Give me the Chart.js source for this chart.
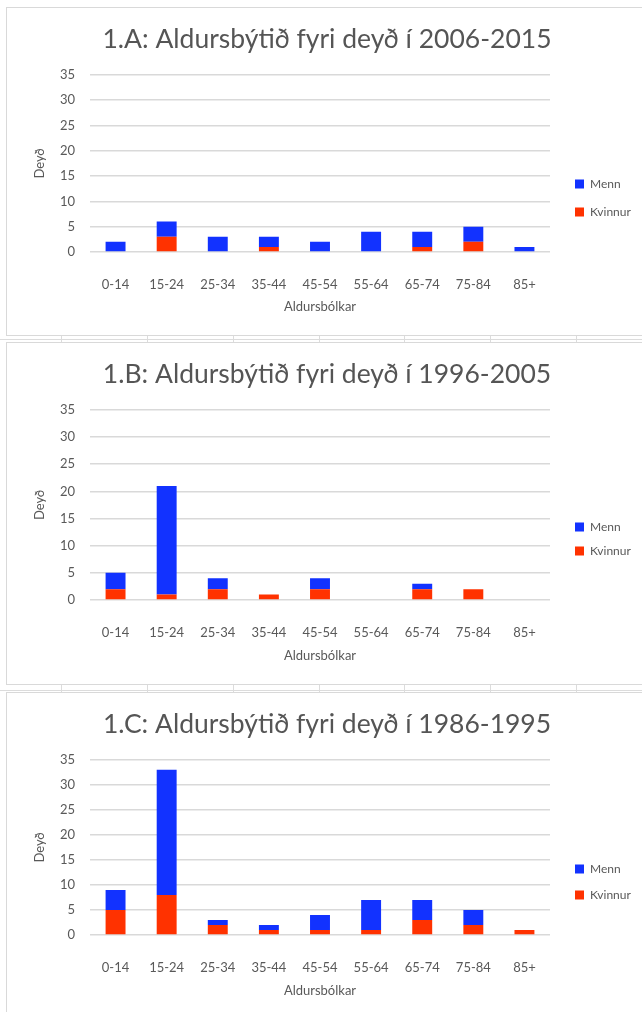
<!DOCTYPE html>
<html lang="fo">
<head>
<meta charset="UTF-8" />
<title>Aldursbýtið fyri deyð</title>
<script src="https://cdn.jsdelivr.net/npm/chart.js"></script>
<style>
  html, body { margin: 0; padding: 0; background: #fff; overflow: hidden; }
  body { width: 642px; height: 1012px; position: relative; }
  .panel { position: absolute; left: 7px; width: 640px; background: #fff; outline: 1px solid #d9d9d9; }
  .panel canvas { position: absolute; left: 0; top: 0; }
  .rad { position: absolute; left: 0; width: 642px; height: 0; border-top: 1px solid #dcdcdc; }
  .kol { position: absolute; width: 0; border-left: 1px solid #dcdcdc; }
</style>
</head>
<body>

<!-- raðlinjur og teigar millum myndirnar -->
<div class="rad" style="top:339px"></div>
<div class="rad" style="top:690px"></div>
<div id="kolonnur"></div>

<div class="panel" style="top:8px; height:327px"><canvas id="myndA" width="635" height="327"></canvas></div>
<div class="panel" style="top:343px; height:341px"><canvas id="myndB" width="635" height="341"></canvas></div>
<div class="panel" style="top:693px; height:326px"><canvas id="myndC" width="635" height="326"></canvas></div>

<script>
const aldursbolkar = ['0-14', '15-24', '25-34', '35-44', '45-54', '55-64', '65-74', '75-84', '85+'];
const yMerki = [0, 5, 10, 15, 20, 25, 30, 35];

// 1.A: 2006-2015
const kvinnurA = [0, 3, 0, 1, 0, 0, 1, 2, 0];
const mennA    = [2, 3, 3, 2, 2, 4, 3, 3, 1];

// 1.B: 1996-2005
const kvinnurB = [2, 1, 2, 1, 2, 0, 2, 2, 0];
const mennB    = [3, 20, 2, 0, 2, 0, 1, 0, 0];

// 1.C: 1986-1995
const kvinnurC = [5, 8, 2, 1, 1, 1, 3, 2, 1];
const mennC    = [4, 25, 1, 1, 3, 6, 4, 3, 0];

const litur = {
  menn: '#1232ff',
  kvinnur: '#ff3200',
  tekstur: '#595959',
  grid: '#d9d9d9'
};

const skrift = 'Lato, "Open Sans", sans-serif';

// kolonnustrikur í rokniarkinum millum myndirnar
const kolX = [61, 147, 233, 319, 404, 490, 576];
const kolBox = document.getElementById('kolonnur');
[[335, 343], [684, 693]].forEach(([a, b]) => {
  kolX.forEach(x => {
    const d = document.createElement('div');
    d.className = 'kol';
    d.style.left = x + 'px';
    d.style.top = a + 'px';
    d.style.height = (b - a) + 'px';
    kolBox.appendChild(d);
  });
});

Chart.defaults.font.family = skrift;
Chart.defaults.color = litur.tekstur;

// sama breidd sum Chart.js roknar forklaringini (lodrøtt)
function forklaringBreidd(bil) {
  const c = document.createElement('canvas').getContext('2d');
  c.font = 'normal 12px ' + skrift;
  const tw = Math.max(c.measureText('Menn').width, c.measureText('Kvinnur').width);
  return bil + 9 + 6 + tw + 10;
}

// flytur forklaringina til sama stað sum í Excel
const flytaForklaring = {
  id: 'flytaForklaring',
  afterLayout(chart, args, opts) {
    const l = chart.legend;
    const pad = l.options.labels.padding;
    const w = l.width, h = l.height;
    l.left = opts.x - pad;
    l.right = l.left + w;
    l.top = opts.y - pad;
    l.bottom = l.top + h;
  }
};

function teikna(id, heiti, kvinnur, menn, s) {
  // ritøkið endar við x=543, heitið miðjað um x=320 (í canvas)
  const hogra = 92 - forklaringBreidd(s.bil);
  const vinstra = 5 + hogra;

  new Chart(document.getElementById(id), {
    type: 'bar',
    data: {
      labels: aldursbolkar,
      datasets: [
        { label: 'Kvinnur', data: kvinnur, backgroundColor: litur.kvinnur },
        { label: 'Menn', data: menn, backgroundColor: litur.menn }
      ]
    },
    options: {
      responsive: false,
      animation: false,
      layout: { padding: { left: vinstra, right: hogra, top: 0, bottom: 0 } },
      datasets: { bar: { categoryPercentage: 1, barPercentage: 0.39 } },
      plugins: {
        title: {
          display: true,
          text: heiti,
          color: '#555555',
          font: { size: 26.5, weight: 'normal' },
          padding: { top: 16, bottom: 19 }
        },
        legend: {
          position: 'right',
          align: 'start',
          reverse: true,
          labels: {
            boxWidth: 9,
            boxHeight: 9,
            padding: s.bil,
            color: litur.tekstur,
            font: { size: 12 }
          }
        },
        tooltip: { enabled: false },
        flytaForklaring: { x: 568, y: s.menn - 6 }
      },
      scales: {
        x: {
          stacked: true,
          grid: { display: false },
          border: { display: false },
          ticks: { padding: 17, font: { size: 13 }, maxRotation: 0, autoSkip: false },
          title: {
            display: true,
            text: 'Aldursbólkar',
            font: { size: 13 },
            padding: { top: 0, bottom: 20 }
          },
          afterFit(sc) { sc.height = s.xHaed; }
        },
        y: {
          stacked: true,
          min: yMerki[0],
          max: yMerki[yMerki.length - 1],
          ticks: { stepSize: yMerki[1] - yMerki[0], padding: 15, font: { size: 13 } },
          grid: { color: litur.grid, lineWidth: 1.5, drawTicks: false },
          border: { display: false },
          title: {
            display: true,
            text: 'Deyð',
            font: { size: 13 },
            padding: { top: Math.max(0, 25 - vinstra), bottom: 0 }
          },
          afterFit(sc) { sc.width = 83 - vinstra; }
        }
      }
    },
    plugins: [flytaForklaring]
  });
}

teikna('myndA', '1.A: Aldursbýtið fyri deyð í 2006-2015', kvinnurA, mennA, { xHaed: 83, menn: 176, bil: 16 });
teikna('myndB', '1.B: Aldursbýtið fyri deyð í 1996-2005', kvinnurB, mennB, { xHaed: 84, menn: 184, bil: 12 });
teikna('myndC', '1.C: Aldursbýtið fyri deyð í 1986-1995', kvinnurC, mennC, { xHaed: 84, menn: 176, bil: 14 });
</script>
</body>
</html>
